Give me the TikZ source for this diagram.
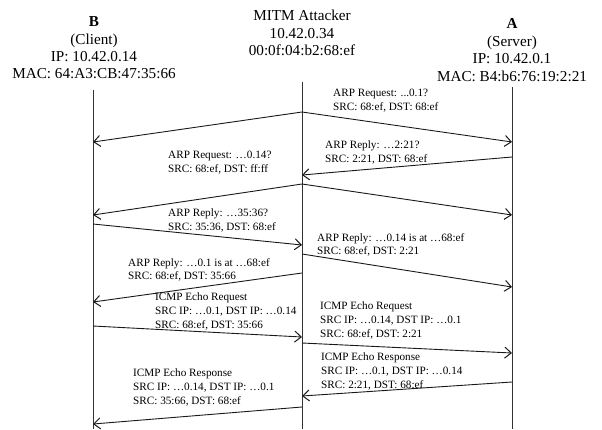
\documentclass[tikz,border=0pt]{standalone}
\usepackage{fontspec}
\setmainfont{Liberation Serif}
\usetikzlibrary{arrows.meta}

\begin{document}
\begin{tikzpicture}[x=1pt,y=-1pt,
  msg/.style={line width=0.9pt, draw=black!90, -{Straight Barb[length=6.5pt,width=11pt,line width=1pt]}},
  life/.style={line width=0.9pt, draw=black!80},
  hdr/.style={align=center, font=\fontsize{15.2}{17.4}\selectfont, inner sep=0},
  lbl/.style={align=left, anchor=north west, inner sep=0, font=\fontsize{11.2}{13.6}\selectfont}]
\useasboundingbox (0,0) rectangle (602,429);

% participants
\node[hdr] (hB) at (94,48) {\textbf{B}\\(Client)\\IP: 10.42.0.14\\MAC: 64:A3:CB:47:35:66};
\node[hdr] (hM) at (302,33) {MITM Attacker\\10.42.0.34\\00:0f:04:b2:68:ef};
\node[hdr] (hA) at (512,50) {\textbf{A}\\(Server)\\IP: 10.42.0.1\\MAC: B4:b6:76:19:2:21};

% lifelines
\coordinate (Btop) at (93,90);   \coordinate (Bbot) at (93,429);
\coordinate (Mtop) at (302,82);  \coordinate (Mbot) at (302,429);
\coordinate (Atop) at (512,87);  \coordinate (Abot) at (512,429);
\draw[life] (Btop) -- (Bbot);
\draw[life] (Mtop) -- (Mbot);
\draw[life] (Atop) -- (Abot);

% message end points
\coordinate (m1) at (302,112); \coordinate (b1) at (93,142); \coordinate (a1) at (512,142);
\coordinate (a2) at (512,157); \coordinate (m2) at (302,175);
\coordinate (m3) at (302,184); \coordinate (b3) at (93,215); \coordinate (a3) at (512,215);
\coordinate (b4) at (93,224);  \coordinate (m4) at (302,245);
\coordinate (m5) at (302,254); \coordinate (a5) at (512,287);
\coordinate (m6) at (302,273); \coordinate (b6) at (93,302);
\coordinate (b7) at (93,326);  \coordinate (m7) at (302,337);
\coordinate (m8) at (302,343); \coordinate (a8) at (512,353);
\coordinate (a9) at (512,382); \coordinate (m9) at (302,396);
\coordinate (m10) at (302,407); \coordinate (b10) at (93,424);

% messages
\draw[msg] (m1) -- (b1);
\draw[msg] (m1) -- (a1);
\draw[msg] (a2) -- (m2);
\draw[msg] (m3) -- (b3);
\draw[msg] (m3) -- (a3);
\draw[msg] (b4) -- (m4);
\draw[msg] (m5) -- (a5);
\draw[msg] (m6) -- (b6);
\draw[msg] (b7) -- (m7);
\draw[msg] (m8) -- (a8);
\draw[msg] (a9) -- (m9);
\draw[msg] (m10) -- (b10);

% message labels
\node[lbl] (l1) at (333,89) {ARP Request: ...0.1?\\SRC: 68:ef, DST: 68:ef};
\node[lbl] (l2) at (325,141) {ARP Reply: …2:21?\\SRC: 2:21, DST: 68:ef};
\node[lbl] (l3) at (168,151) {ARP Request: …0.14?\\SRC: 68:ef, DST: ff:ff};
\node[lbl] (l4) at (168,209) {ARP Reply: …35:36?\\SRC: 35:36, DST: 68:ef};
\node[lbl] (l5) at (317,233) {ARP Reply: …0.14 is at …68:ef\\SRC: 68:ef, DST: 2:21};
\node[lbl] (l6) at (128,258) {ARP Reply: …0.1 is at …68:ef\\SRC: 68:ef, DST: 35:66};
\node[lbl] (l7) at (155,293) {ICMP Echo Request\\SRC IP: …0.1, DST IP: …0.14\\SRC: 68:ef, DST: 35:66};
\node[lbl] (l8) at (320,302) {ICMP Echo Request\\SRC IP: …0.14, DST IP: …0.1\\SRC: 68:ef, DST: 2:21};
\node[lbl] (l9) at (321,353) {ICMP Echo Response\\SRC IP: …0.1, DST IP: …0.14\\SRC: 2:21, DST: 68:ef};
\node[lbl] (l10) at (133,369) {ICMP Echo Response\\SRC IP: …0.14, DST IP: …0.1\\SRC: 35:66, DST: 68:ef};
\end{tikzpicture}
\end{document}
